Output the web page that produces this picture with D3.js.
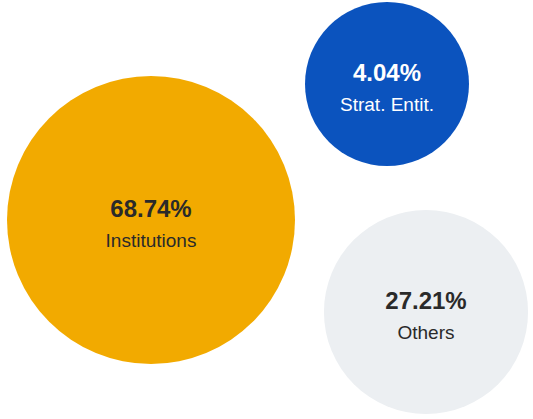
<!DOCTYPE html>
<html>
<head>
<meta charset="utf-8">
<script src="https://cdn.jsdelivr.net/npm/d3@7"></script>
<style>
  html, body { margin: 0; padding: 0; background: #ffffff; }
  svg { display: block; }
  text { font-family: "Liberation Sans", Arial, sans-serif; }
</style>
</head>
<body>
<svg id="chart" width="533" height="419"></svg>
<script>
// Data
const categories = ["Institutions", "Strat. Entit.", "Others"];
const values = [68.74, 4.04, 27.21];
const colors = ["#F2AA00", "#0B53BE", "#ECEFF2"];
const textColors = ["#2a2a2a", "#ffffff", "#2a2a2a"];

// Layout (bubble centres, in pixels)
const centerX = [151, 387, 426];
const centerY = [220, 84, 312];

const svg = d3.select("#chart");

const r = d3.scalePow()
  .exponent(1.13)
  .domain([d3.min(values), d3.max(values)])
  .range([82, 144]);

const fmt = d3.format(".2f");

const data = categories.map((c, i) => ({
  cat: c, value: values[i], color: colors[i], tc: textColors[i],
  x: centerX[i], y: centerY[i]
}));

const g = svg.selectAll("g.bubble")
  .data(data)
  .join("g")
  .attr("class", "bubble")
  .attr("transform", d => `translate(${d.x},${d.y})`);

g.append("circle")
  .attr("r", d => r(d.value))
  .attr("fill", d => d.color);

g.append("text")
  .attr("text-anchor", "middle")
  .attr("dominant-baseline", "central")
  .attr("y", -12)
  .attr("font-size", 24)
  .attr("font-weight", "bold")
  .attr("fill", d => d.tc)
  .text(d => fmt(d.value) + "%");

g.append("text")
  .attr("text-anchor", "middle")
  .attr("dominant-baseline", "central")
  .attr("y", 20)
  .attr("font-size", 19)
  .attr("fill", d => d.tc)
  .text(d => d.cat);
</script>
</body>
</html>
